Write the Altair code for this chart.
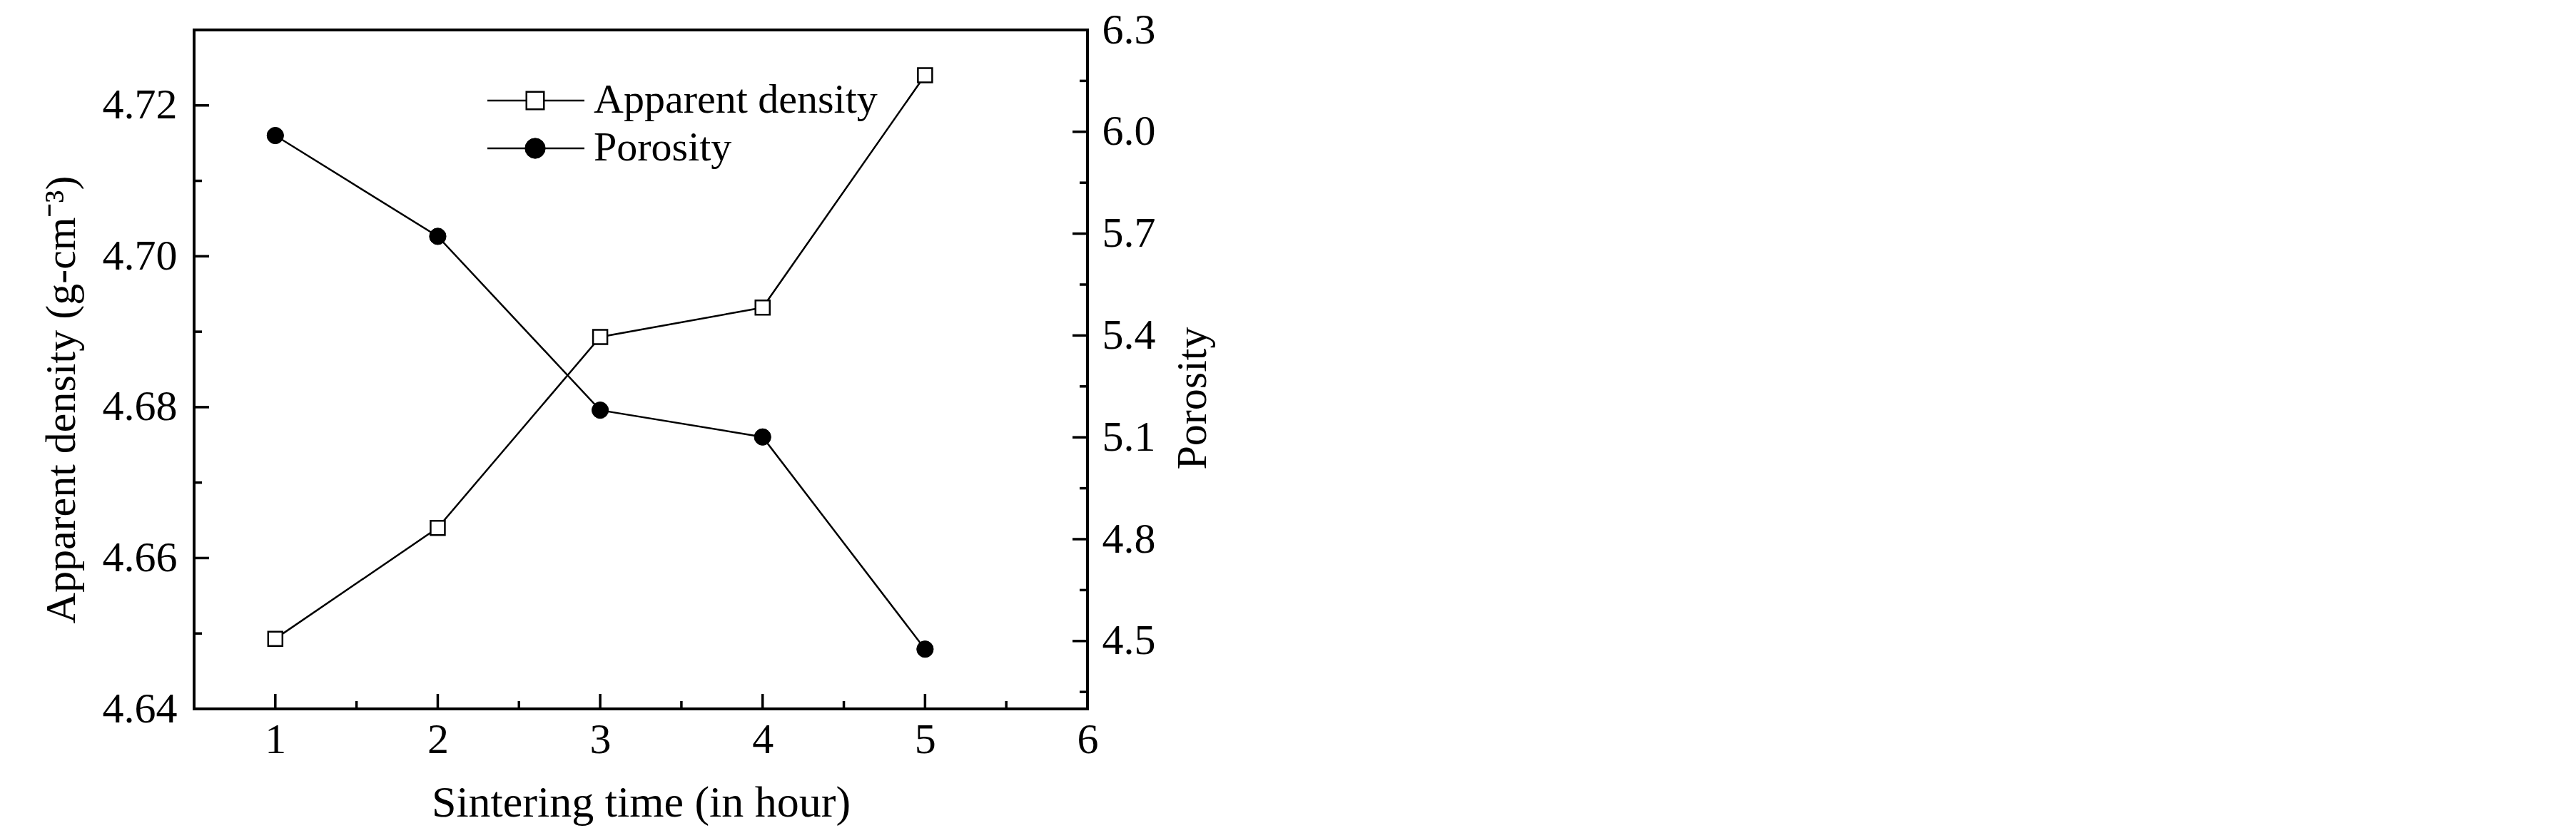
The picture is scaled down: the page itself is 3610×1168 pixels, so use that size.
import altair as alt
import pandas as pd

# ---- data ----
time_h = [1, 2, 3, 4, 5]
apparent_density = [4.6493, 4.6640, 4.6893, 4.6932, 4.7240]
porosity = [5.989, 5.692, 5.180, 5.101, 4.476]

x_major = [1, 2, 3, 4, 5, 6]
x_minor = [1.5, 2.5, 3.5, 4.5, 5.5]
left_major = [4.64, 4.66, 4.68, 4.70, 4.72]
left_minor = [4.65, 4.67, 4.69, 4.71]
right_major = [4.5, 4.8, 5.1, 5.4, 5.7, 6.0, 6.3]
right_minor = [4.35, 4.65, 4.95, 5.25, 5.55, 5.85, 6.15]
legend_labels = ["Apparent density", "Porosity"]

W, H = 1252, 952
FONT = "Liberation Serif"
FS = 60

data = pd.DataFrame({"t": time_h, "density": apparent_density, "porosity": porosity})

x_scale = alt.Scale(domain=[0.5, 6], nice=False, zero=False)
yl_scale = alt.Scale(domain=[4.64, 4.73], nice=False, zero=False)
yr_scale = alt.Scale(domain=[4.3, 6.3], nice=False, zero=False)

x_axis = alt.Axis(values=x_major, format="d", title="Sintering time (in hour)",
                  titleY=150, titleBaseline="alphabetic", labelPadding=14,
                  titleFontSize=62, orient="bottom")
yl_axis = alt.Axis(values=left_major, format=".2f", title="Apparent density (g-cm\u207b\u00b3)",
                   orient="left", labelPadding=24, titleAngle=270, titleX=-168,
                   titleY=518, titleBaseline="alphabetic", titleAlign="center")
yr_axis = alt.Axis(values=right_major, format=".1f", title="Porosity",
                   orient="right", labelPadding=20, titleAngle=270, titleX=165,
                   titleY=516, titleBaseline="alphabetic", titleAlign="center")

X = alt.X("t:Q", scale=x_scale, axis=x_axis)
YL = alt.Y("density:Q", scale=yl_scale, axis=yl_axis)
YR = alt.Y("porosity:Q", scale=yr_scale, axis=yr_axis)

# ---- density layer (left axis) ----
dens_line = alt.Chart(data).mark_line(color="black", strokeWidth=2.5).encode(x=X, y=YL)
dens_pts = alt.Chart(data).mark_point(shape="square", filled=True, fill="white",
                                      stroke="black", strokeWidth=2.5, size=400,
                                      opacity=1).encode(x=X, y=YL)
lmaj = pd.DataFrame({"density": left_major})
lmin = pd.DataFrame({"density": left_minor})
lmaj_ticks = alt.Chart(lmaj).mark_rule(color="black", strokeWidth=3.5).encode(
    y=YL, x=alt.value(0), x2=alt.value(21))
lmin_ticks = alt.Chart(lmin).mark_rule(color="black", strokeWidth=3.5).encode(
    y=YL, x=alt.value(0), x2=alt.value(11))
layer_a = alt.layer(dens_line, lmaj_ticks, lmin_ticks, dens_pts)

# ---- porosity layer (right axis) ----
por_line = alt.Chart(data).mark_line(color="black", strokeWidth=2.5).encode(x=X, y=YR)
por_pts = alt.Chart(data).mark_point(shape="circle", filled=True, fill="black",
                                     stroke="black", strokeWidth=1, size=540,
                                     opacity=1).encode(x=X, y=YR)
rmaj = pd.DataFrame({"porosity": right_major})
rmin = pd.DataFrame({"porosity": right_minor})
rmaj_ticks = alt.Chart(rmaj).mark_rule(color="black", strokeWidth=3.5).encode(
    y=YR, x=alt.value(W - 21), x2=alt.value(W))
rmin_ticks = alt.Chart(rmin).mark_rule(color="black", strokeWidth=3.5).encode(
    y=YR, x=alt.value(W - 11), x2=alt.value(W))
layer_b = alt.layer(por_line, rmaj_ticks, rmin_ticks, por_pts)

# ---- x ticks ----
xmaj = pd.DataFrame({"t": x_major})
xmin = pd.DataFrame({"t": x_minor})
xmaj_ticks = alt.Chart(xmaj).mark_rule(color="black", strokeWidth=3.5).encode(
    x=X, y=alt.value(H - 21), y2=alt.value(H))
xmin_ticks = alt.Chart(xmin).mark_rule(color="black", strokeWidth=3.5).encode(
    x=X, y=alt.value(H - 11), y2=alt.value(H))

# ---- legend ----
leg = pd.DataFrame({"label": legend_labels, "row": list(range(len(legend_labels)))})
LY = alt.Y("row:Q", scale=alt.Scale(domain=[0, 1], range=[99, 166], nice=False, zero=False), axis=None)
leg_line = alt.Chart(leg).mark_rule(color="black", strokeWidth=2.5).encode(
    y=LY, x=alt.value(411), x2=alt.value(547))
leg_sq = alt.Chart(leg).transform_filter(alt.datum.row == 0).mark_point(
    shape="square", filled=True, fill="white", stroke="black", strokeWidth=2.5,
    size=600, opacity=1).encode(y=LY, x=alt.value(478))
leg_ci = alt.Chart(leg).transform_filter(alt.datum.row == 1).mark_point(
    shape="circle", filled=True, fill="black", stroke="black", strokeWidth=1,
    size=800, opacity=1).encode(y=LY, x=alt.value(478))
leg_txt = alt.Chart(leg).mark_text(align="left", baseline="middle", font=FONT,
                                   fontSize=58, color="black").encode(
    y=LY, x=alt.value(560), text="label:N")
layer_leg = alt.layer(leg_line, leg_sq, leg_ci, leg_txt)

chart = alt.layer(layer_a, layer_b, xmaj_ticks, xmin_ticks, layer_leg).resolve_scale(
    y="independent"
).properties(
    width=W, height=H,
    autosize=alt.AutoSizeParams(type="none"),
    padding={"left": 264, "top": 34, "right": 320, "bottom": 200},
    background="white",
).configure_view(
    stroke="black", strokeWidth=4
).configure_axis(
    labelFont=FONT, titleFont=FONT, labelFontSize=FS, titleFontSize=FS,
    titleFontWeight="normal", labelColor="black", titleColor="black",
    grid=False, domain=False, ticks=False, tickSize=0,
    labelFlush=False, labelOverlap=False,
)

chart.save("out.html", embed_options={"renderer": "svg", "actions": False})
